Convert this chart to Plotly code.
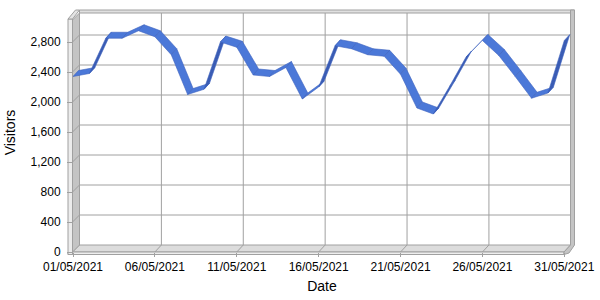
import pandas as pd
import plotly.graph_objects as go

# ---- data ----
dates = pd.date_range("2021-05-01", "2021-05-31", freq="D")
visitors = [2340, 2380, 2850, 2850, 2950, 2870, 2630, 2100, 2170, 2800,
            2730, 2360, 2340, 2460, 2040, 2200, 2750, 2710, 2630, 2610,
            2370, 1920, 1840, 2210, 2600, 2820, 2620, 2340, 2050, 2120, 2820]
y_ticks = [0, 400, 800, 1200, 1600, 2000, 2400, 2800]
x_tick_dates = pd.date_range("2021-05-01", "2021-05-31", freq="5D")

# ---- pixel geometry ----
L, R, T, B = 73, 571, 13, 252
W, H = R - L, B - T
PX_PER_DAY = 16.377
PX_PER_UNIT = 0.075
DX, DY = 6.5, 7.0          # depth offset of the back wall (px)
RDX, RDY = 5.5, 6.0        # depth of the ribbon (px)

def px(x):
    return (x - L) / W

def py(y):
    return (B - y) / H

x0 = pd.Timestamp("2021-05-01")
x1 = x0 + pd.Timedelta(days=W / PX_PER_DAY)
ymax = H / PX_PER_UNIT

light = "#4b78d8"
dark = "#3a5cb4"
edge = "#3d61bd"

fig = go.Figure()

off_t = pd.Timedelta(days=RDX / PX_PER_DAY)
off_v = RDY / PX_PER_UNIT
for i in range(len(dates) - 1):
    xa, xb = dates[i], dates[i + 1]
    va, vb = visitors[i], visitors[i + 1]
    sx, sy = PX_PER_DAY, (vb - va) * PX_PER_UNIT
    cross = sx * RDY - sy * RDX
    col = light if cross > 0 else dark
    fig.add_trace(go.Scatter(
        x=[xa, xb, xb + off_t, xa + off_t, xa],
        y=[va, vb, vb + off_v, va + off_v, va],
        mode="lines", fill="toself", fillcolor=col,
        line=dict(color=edge, width=0.6),
        hoverinfo="skip", showlegend=False))

shapes = []
grid = "#a0a0a0"
for v in y_ticks[1:]:
    yf = B - v * PX_PER_UNIT
    yb = yf - DY
    shapes.append(dict(type="line", xref="paper", yref="paper",
                       x0=px(L + DX), x1=px(R - 0.5), y0=py(yb), y1=py(yb),
                       line=dict(color=grid, width=1), layer="below"))
for d in x_tick_dates[1:-1]:
    xf = L + (d - x0).days * PX_PER_DAY
    xb = xf + DX
    shapes.append(dict(type="line", xref="paper", yref="paper",
                       x0=px(xb), x1=px(xb), y0=py(T), y1=py(B - DY),
                       line=dict(color=grid, width=1), layer="below"))

def poly(pts, fill, line=grid, w=1):
    path = "M " + " L ".join(f"{px(a)},{py(b)}" for a, b in pts) + " Z"
    return dict(type="path", xref="paper", yref="paper", path=path,
                fillcolor=fill, line=dict(color=line, width=w), layer="below")

shapes.append(poly([(L - 0.5, B), (L + DX, B - DY), (R - 0.5, B - DY), (R - 0.5 - DX, B)], "#dcdcdc"))
shapes.append(poly([(68, B), (R - 0.5 - DX, B), (R - 0.5 - DX, B + 2.5), (68, B + 2.5)], "#eeeeee"))
shapes.append(poly([(L - 0.5, 20), (L + DX, T), (L + DX, B - DY), (L - 0.5, B)], "#c4c4c4"))
shapes.append(poly([(68, 19), (L - 0.5, 19), (L - 0.5, B + 2.5), (68, B + 2.5)], "#ececec"))
shapes.append(poly([(68, 19), (L + DX - 4, 10), (L + DX, 10), (L - 0.5, 19)], "#e4e4e4"))
shapes.append(poly([(L + DX, 10), (R + 3.5, 10), (R + 3.5, T), (L + DX, T)], "#e0e0e0"))
shapes.append(poly([(R - 0.5, 10), (R + 3.5, 10), (R + 3.5, B - DY), (R - 2, B + 1), (R - 0.5 - DX, B + 2.5), (R - 0.5 - DX, B), (R - 0.5, B - DY)], "#c4c4c4"))
for v in y_ticks[1:]:
    yf = B - v * PX_PER_UNIT
    shapes.append(dict(type="line", xref="paper", yref="paper",
                       x0=px(L - 0.5), x1=px(L + DX), y0=py(yf), y1=py(yf - DY),
                       line=dict(color=grid, width=1), layer="below"))
for d in x_tick_dates[1:-1]:
    xf = L + (d - x0).days * PX_PER_DAY
    shapes.append(dict(type="line", xref="paper", yref="paper",
                       x0=px(xf), x1=px(xf + DX), y0=py(B), y1=py(B - DY),
                       line=dict(color=grid, width=1), layer="below"))

font = dict(family="Liberation Sans, Arial, sans-serif", size=12, color="#000000")
fig.update_layout(
    width=600, height=300,
    margin=dict(l=L, r=600 - R, t=T, b=300 - B),
    paper_bgcolor="white", plot_bgcolor="white",
    font=font, shapes=shapes, showlegend=False,
    xaxis=dict(type="date", range=[x0, x1], tickvals=list(x_tick_dates),
               ticktext=[d.strftime("%d/%m/%Y") for d in x_tick_dates],
               showgrid=False, zeroline=False, showline=False,
               ticks="outside", ticklen=4, tickcolor=grid,
               title=dict(text="Date", standoff=7), automargin=False),
    yaxis=dict(range=[0, ymax], tickvals=y_ticks,
               ticktext=[f"{v:,}" for v in y_ticks],
               showgrid=False, zeroline=False, showline=False,
               ticks="outside", ticklen=5, tickcolor=grid,
               ticklabelstandoff=4,
               title=dict(text="Visitors", standoff=11), automargin=False),
)

fig.write_html("out.html")
